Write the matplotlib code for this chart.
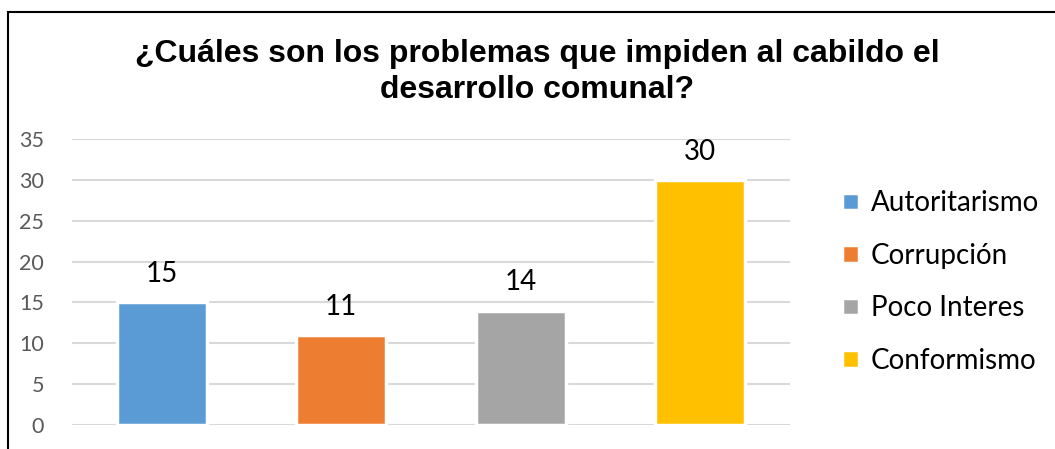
import matplotlib
matplotlib.use('Agg')
import matplotlib.pyplot as plt
from matplotlib.patches import Rectangle

# Data
categories = ['Autoritarismo', 'Corrupción', 'Poco Interes', 'Conformismo']
values = [15, 11, 14, 30]
colors = ['#5B9BD5', '#ED7D31', '#A5A5A5', '#FFC000']
yticks = [0, 5, 10, 15, 20, 25, 30, 35]

plt.rcParams['font.family'] = ['Lato', 'DejaVu Sans']

fig = plt.figure(figsize=(10.55, 4.49), dpi=100)
W, H = 1055, 449

# outer chart border (cut off at right and bottom)
fig.patches.append(Rectangle((8 / W, -0.1), 1.2, 1 - 12 / H + 0.1,
                             transform=fig.transFigure, fill=False,
                             edgecolor='black', linewidth=1.5))

ax = fig.add_axes([72 / W, 1 - 425 / H, (790 - 72) / W, (425 - 139) / H])

for i, (cat, val, col) in enumerate(zip(categories, values, colors)):
    ax.bar(i, val, width=0.5, color=col, edgecolor='white', linewidth=2.5,
           label=cat, zorder=3)
    ax.annotate(str(val), (i, val), xytext=(0, 11), textcoords='offset points',
                ha='center', va='bottom', fontsize=20, color='black')

ax.set_xlim(-0.5, len(categories) - 0.5)
ax.set_ylim(0, 35)
ax.set_yticks(yticks)
ax.set_xticks([])
ax.yaxis.grid(True, color='#d9d9d9', linewidth=1.5, zorder=0)
ax.tick_params(axis='y', length=0, pad=20, labelsize=15.5, labelcolor='#595959')
for s in ax.spines.values():
    s.set_visible(False)

fig.text(537 / W, 1 - 72 / H,
         '¿Cuáles son los problemas que impiden al cabildo el\ndesarrollo comunal?',
         ha='center', va='center', fontsize=23, fontweight='bold',
         family=['Liberation Sans', 'DejaVu Sans'], linespacing=1.3)

ax.legend(loc='center left', bbox_to_anchor=(1.053, 0.5), frameon=False,
          fontsize=20, handlelength=0.6, handleheight=0.6, handletextpad=0.45,
          labelspacing=0.95, borderpad=0)

fig.savefig('out.png', dpi=100)
